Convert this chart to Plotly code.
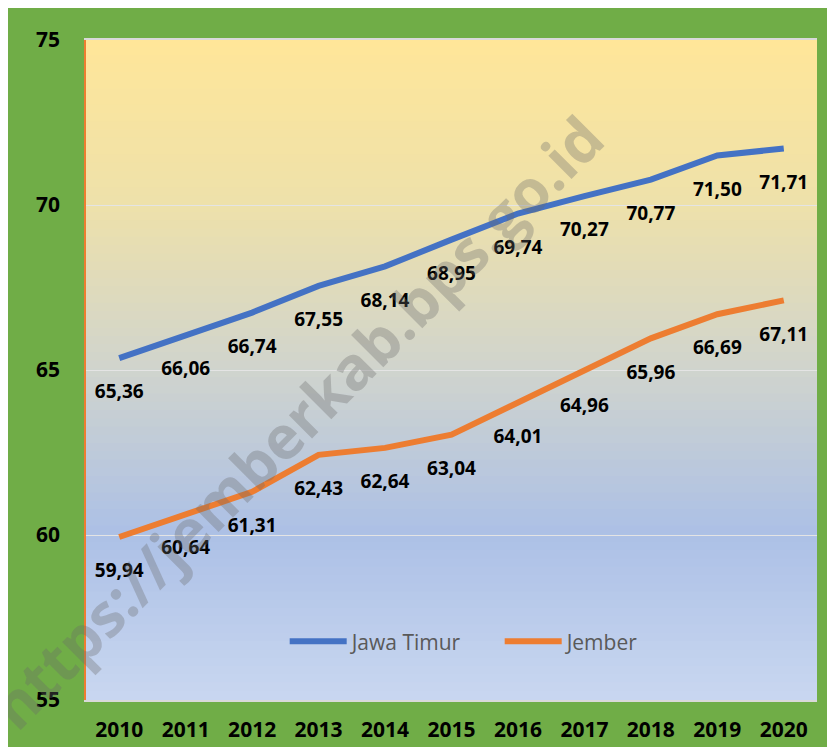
import plotly.graph_objects as go

years = ["2010", "2011", "2012", "2013", "2014", "2015", "2016", "2017", "2018", "2019", "2020"]
jawa_timur = [65.36, 66.06, 66.74, 67.55, 68.14, 68.95, 69.74, 70.27, 70.77, 71.50, 71.71]
jember = [59.94, 60.64, 61.31, 62.43, 62.64, 63.04, 64.01, 64.96, 65.96, 66.69, 67.11]
y_ticks = [55, 60, 65, 70, 75]

W, H = 835, 747
ML, MT = 78, 32
MR = 26
MB = 36
PW, PH = W - ML - MR, H - MT - MB

FONT = "Open Sans"
BLUE = "#4472C4"
ORANGE = "#ED7D31"
GREEN = "#70AD47"


def fmt(v):
    return f"{v:.2f}".replace(".", ",")


fig = go.Figure()
fig.add_trace(go.Scatter(x=years, y=jawa_timur, mode="lines", name="Jawa Timur",
                         line=dict(color=BLUE, width=6)))
fig.add_trace(go.Scatter(x=years, y=jember, mode="lines", name="Jember",
                         line=dict(color=ORANGE, width=6)))
for series in (jawa_timur, jember):
    fig.add_trace(go.Scatter(x=years, y=series, mode="markers+text", showlegend=False,
                             hoverinfo="skip", text=[fmt(v) for v in series],
                             textposition="bottom center",
                             marker=dict(size=40, color="rgba(0,0,0,0)"),
                             textfont=dict(family=FONT, size=19, color="black", weight="bold")))

shapes = []
stops = [(0.0, (255, 230, 153)), (0.25, (238, 225, 170)), (0.5, (208, 212, 205)),
         (0.75, (172, 192, 230)), (1.0, (201, 215, 240))]


def col_at(t):
    for (t0, c0), (t1, c1) in zip(stops[:-1], stops[1:]):
        if t0 <= t <= t1:
            f = (t - t0) / (t1 - t0)
            return "rgb(%d,%d,%d)" % tuple(round(a + (b - a) * f) for a, b in zip(c0, c1))
    return "rgb(%d,%d,%d)" % stops[-1][1]


N = 80
for i in range(N):
    t = (i + 0.5) / N
    shapes.append(dict(type="rect", xref="x domain", yref="y domain", layer="below",
                       x0=0, x1=1, y0=max(0, 1 - (i + 1) / N - 0.002), y1=min(1, 1 - i / N + 0.002),
                       fillcolor=col_at(t), line=dict(width=0)))

annotations = [dict(xref="paper", yref="paper", x=(288 - ML) / PW, y=(H - MB - 425) / PH,
                    xanchor="center", yanchor="middle",
                    text="https://jemberkab.bps.go.id", showarrow=False, textangle=-45,
                    font=dict(family=FONT, size=60, color="rgba(105,105,105,0.33)", weight="bold"))]

fig.update_layout(
    width=W, height=H,
    margin=dict(l=ML, r=MR, t=MT, b=MB),
    paper_bgcolor=GREEN,
    plot_bgcolor="rgba(0,0,0,0)",
    shapes=shapes,
    annotations=annotations,
    showlegend=True,
    legend=dict(orientation="h", x=(284 - ML) / PW - 0.01, y=(H - MB - 651) / PH,
                xanchor="left", yanchor="middle",
                bgcolor="rgba(0,0,0,0)", font=dict(family=FONT, size=21, color="#595959"),
                itemwidth=57, entrywidth=143),
    xaxis=dict(type="category", range=[-0.5, 10.5], showgrid=False,
               showline=True, linecolor="#D9D9D9", linewidth=2, mirror=True,
               ticks="outside", ticklen=10, tickcolor="rgba(0,0,0,0)",
               tickfont=dict(family=FONT, size=21, color="black", weight="bold")),
    yaxis=dict(range=[55, 75], tickvals=y_ticks, showgrid=True, gridcolor="#E4E4E4", gridwidth=1,
               showline=True, linecolor=ORANGE, linewidth=1.5, zeroline=False,
               ticks="outside", ticklen=20, tickcolor="rgba(0,0,0,0)",
               tickfont=dict(family=FONT, size=21, color="black", weight="bold")),
)

fig.write_html("out.html")
